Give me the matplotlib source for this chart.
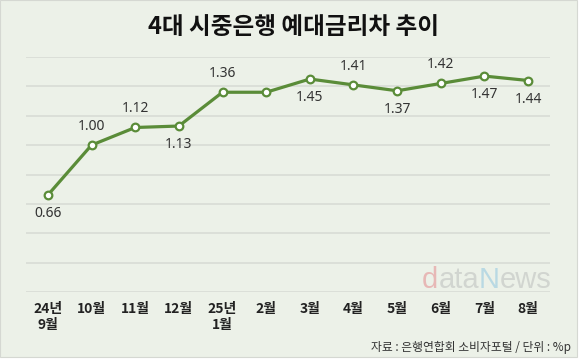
import matplotlib.pyplot as plt
from matplotlib.patches import Rectangle

# data
months = ['24년\n9월', '10월', '11월', '12월', '25년\n1월', '2월',
          '3월', '4월', '5월', '6월', '7월', '8월']
spread = [0.66, 1.00, 1.12, 1.13, 1.36, 1.36, 1.45, 1.41, 1.37, 1.42, 1.47, 1.44]
labels = ['0.66', '1.00', '1.12', '1.13', '1.36', '', '1.45', '1.41', '1.37', '1.42', '1.47', '1.44']
label_side = ['below', 'above', 'above', 'below', 'above', None,
              'below', 'above', 'below', 'above', 'below', 'below']

bg = '#ECF1E8'
green = '#5A8C38'
grid_c = '#D8DCD5'
kr = ['Noto Sans CJK KR', 'DejaVu Sans']

fig = plt.figure(figsize=(5.8, 3.61), dpi=100)
fig.patch.set_facecolor('white')
fig.patches.append(Rectangle((0, 0.012), 0.994, 0.988, transform=fig.transFigure,
                             facecolor=bg, edgecolor='#D5D8D2', lw=0.8, zorder=-10))

ax = fig.add_axes([26 / 580, 1 - 292 / 361, 524 / 580, 235 / 361])
ax.set_facecolor('none')

x = list(range(len(months)))
ax.plot(x, spread, color=green, lw=2.3, marker='o', ms=5.5,
        mfc='white', mec=green, mew=1.6, zorder=3)

for i, (v, t, s) in enumerate(zip(spread, labels, label_side)):
    if not t:
        continue
    dy = 13.5 if s == 'above' else -13.5
    ax.annotate(t, (i, v), xytext=(0, dy), textcoords='offset points',
                ha='center', va='center', fontsize=10, color='#333333',
                family=['Noto Sans', 'DejaVu Sans'])

ax.set_xlim(-0.5, len(months) - 0.5)
ax.set_ylim(0, 1.6)
ax.set_yticks([0.2 * k for k in range(9)])
ax.yaxis.grid(True, color=grid_c, lw=1.2)
ax.set_axisbelow(True)
ax.tick_params(axis='y', left=False, labelleft=False)
ax.tick_params(axis='x', length=0, pad=7)
ax.set_xticks(x)
ax.set_xticklabels(months, fontsize=10, fontweight='bold', color='#222222',
                   family=kr, linespacing=1.25, va='top')
for sp in ax.spines.values():
    sp.set_visible(False)

fig.text(0.506, 1 - 27 / 361, '4대 시중은행 예대금리차 추이', ha='center', va='center',
         fontsize=17, fontweight='black', color='#111111', family=kr)

fig.text(571 / 580, 1 - 347 / 361, '자료 : 은행연합회 소비자포털 / 단위 : %p',
         ha='right', va='center', fontsize=8.5, color='#333333', family=kr)

# watermark
wm = [('d', '#E6A6A6'), ('ata', '#C9CCC8'), ('N', '#A9D2E2'), ('ews', '#C9CCC8')]
xpos = 422
for part, col in wm:
    t = fig.text(xpos / 580, 1 - 288 / 361, part, ha='left', va='baseline',
                 fontsize=21, color=col, alpha=0.75, family='Liberation Sans', zorder=1)
    fig.canvas.draw()
    bb = t.get_window_extent()
    xpos += bb.width

fig.savefig('out.png', dpi=100, facecolor=fig.get_facecolor())
